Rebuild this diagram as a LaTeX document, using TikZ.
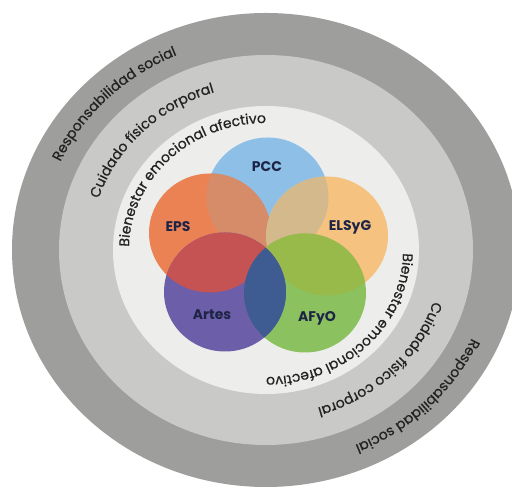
\documentclass[tikz,border=0pt]{standalone}
\usepackage{fontspec}
\setmainfont{Poppins}
\newfontfamily\ringfam[FakeBold=0.6]{Poppins}
\usetikzlibrary{decorations.text,calc}
\definecolor{ringA}{HTML}{9E9E9C}
\definecolor{ringB}{HTML}{C9C9C8}
\definecolor{ringC}{HTML}{EDEDEC}
\definecolor{pccC}{HTML}{8DBFE7}
\definecolor{epsC}{HTML}{EB8254}
\definecolor{elsC}{HTML}{F5C27F}
\definecolor{artC}{HTML}{6C5EA8}
\definecolor{afyC}{HTML}{8CC160}
\definecolor{epspcc}{HTML}{D78C69}
\definecolor{elspcc}{HTML}{D4B98C}
\definecolor{afyels}{HTML}{98BA4B}
\definecolor{arteps}{HTML}{C65353}
\definecolor{artafy}{HTML}{3E5C91}
\definecolor{labelC}{HTML}{1E2445}
\definecolor{ringtxt}{HTML}{222222}
\newcommand{\ringfont}{\ringfam\fontsize{14pt}{16pt}\selectfont\color{ringtxt}}
\tikzset{
  lbl/.style={font=\bfseries\fontsize{14pt}{16pt}\selectfont, text=labelC, inner sep=0pt},
  ringtext/.style={decorate, decoration={text along path, text align=center, text={|\ringfont|#1}}}
}
\begin{document}
\begin{tikzpicture}[x=1pt,y=1pt]
\useasboundingbox (0,0) rectangle (512,489);
\clip (0,0) rectangle (512,489);
\fill[white] (0,0) rectangle (512,489);
\coordinate (c) at (266,239);
% rings
\fill[ringA] (c) ellipse [x radius=254, y radius=237];
\fill[ringB] (c) ellipse [x radius=207, y radius=195];
\fill[ringC] (c) ellipse [x radius=153, y radius=144];
% venn centres
\coordinate (P) at (267.5,292);
\coordinate (E) at (210,256);
\coordinate (L) at (327,253);
\coordinate (A) at (225,197);
\coordinate (F) at (305,196);
\begin{scope}[x radius=61, y radius=59.5]
  \fill[pccC] (P) circle[];
  \fill[elsC] (L) circle[];
  \fill[epsC] (E) circle[];
  \begin{scope}\clip (P) circle[]; \fill[epspcc] (E) circle[]; \fill[elspcc] (L) circle[]; \end{scope}
  \fill[afyC] (F) circle[];
  \begin{scope}\clip (L) circle[]; \fill[afyels] (F) circle[]; \end{scope}
  \fill[artC] (A) circle[];
  \begin{scope}\clip (E) circle[]; \fill[arteps] (A) circle[]; \end{scope}
  \begin{scope}\clip (F) circle[]; \fill[artafy] (A) circle[]; \end{scope}
\end{scope}
% labels
\node[lbl] (pcc) at (267,322) {PCC};
\node[lbl] (eps) at (178,262) {EPS};
\node[lbl] (els) at (350,262) {ELSyG};
\node[lbl] (art) at (212,174) {Artes};
\node[lbl] (afy) at (317,171) {AFyO};
% ring texts
\path[ringtext={Responsabilidad social}] (40,239) arc[start angle=180, end angle=90, x radius=226, y radius=212];
\path[ringtext={Responsabilidad social}] (492,239) arc[start angle=0, end angle=-90, x radius=226, y radius=212];
\path[ringtext={Cuidado físico corporal}] (90,239) arc[start angle=180, end angle=90, x radius=176, y radius=165];
\path[ringtext={Cuidado físico corporal}] (442,239) arc[start angle=0, end angle=-90, x radius=176, y radius=165];
\path[ringtext={Bienestar emocional afectivo}] ($(c)+(200:137 and 127)$) arc[start angle=200, end angle=70, x radius=137, y radius=127];
\path[ringtext={Bienestar emocional afectivo}] ($(c)+(20:137 and 127)$) arc[start angle=20, end angle=-110, x radius=137, y radius=127];
\end{tikzpicture}
\end{document}
